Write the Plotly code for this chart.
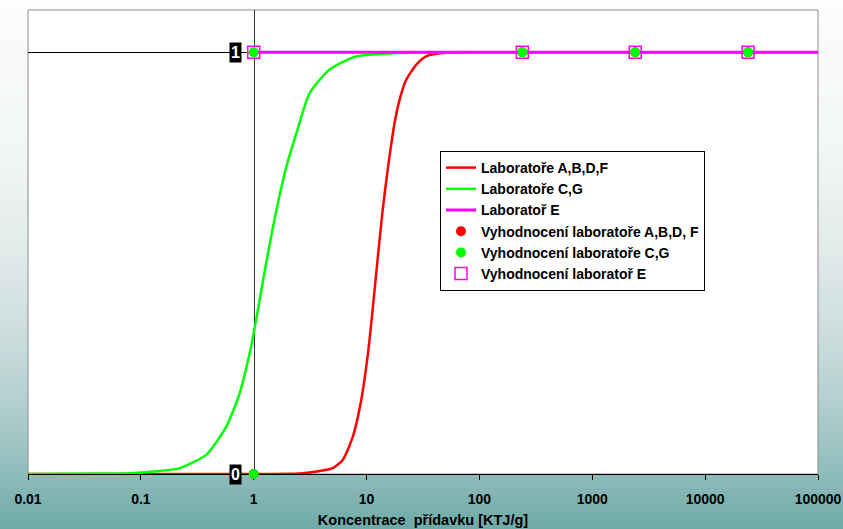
import plotly.graph_objects as go

# ---- data ----
red_x = [0.01, 1, 2.55, 3.59, 5.03, 6.17, 7.57, 8.98, 10.3, 11.4, 12.6, 13.9, 15.4, 17.7, 19.6, 22.4, 27.5, 33.7, 47.3, 100, 100000]
red_y = [0, 0, 0.001, 0.006, 0.014, 0.034, 0.089, 0.176, 0.287, 0.398, 0.516, 0.627, 0.722, 0.832, 0.887, 0.934, 0.970, 0.990, 0.998, 1, 1]

green_x = [0.01, 0.05, 0.08, 0.13, 0.221, 0.381, 0.573, 0.751, 0.922, 1.0, 1.13, 1.29, 1.59, 1.95, 2.39, 3.13, 4.71, 8.11, 18.3, 100, 100000]
green_y = [0, 0.001, 0.002, 0.006, 0.014, 0.046, 0.113, 0.192, 0.287, 0.334, 0.413, 0.50, 0.626, 0.729, 0.808, 0.903, 0.959, 0.990, 0.998, 1, 1]

pink_x = [1, 240, 2400, 24000, 100000]
pink_y = [1, 1, 1, 1, 1]

red_pts_x = [1, 240, 2400, 24000]
red_pts_y = [0, 1, 1, 1]
green_pts_x = [1, 1, 240, 2400, 24000]
green_pts_y = [0, 1, 1, 1, 1]
pink_pts_x = [1, 240, 2400, 24000]
pink_pts_y = [1, 1, 1, 1]

tick_vals = [0.01, 0.1, 1, 10, 100, 1000, 10000, 100000]
tick_text = ["0.01", "0.1", "1", "10", "100", "1000", "10000", "100000"]

names = ["Laboratoře A,B,D,F", "Laboratoře C,G", "Laboratoř E",
         "Vyhodnocení laboratoře A,B,D, F", "Vyhodnocení laboratoře C,G", "Vyhodnocení laboratoř E"]
x_title = "Koncentrace  přídavku [KTJ/g]"

# ---- figure ----
W, H = 843, 529
ML, MR, MT, MB = 28, 25, 10, 55
PW, PH = W - ML - MR, H - MT - MB
FONT = "Arial, Liberation Sans, sans-serif"

fig = go.Figure()
fig.add_trace(go.Scatter(x=red_x, y=red_y, mode="lines", name=names[0],
                         line=dict(color="#ff0000", width=2.5, shape="spline", smoothing=0.6)))
fig.add_trace(go.Scatter(x=green_x, y=green_y, mode="lines", name=names[1],
                         line=dict(color="#00ff00", width=2.5, shape="spline", smoothing=0.6)))
fig.add_trace(go.Scatter(x=pink_x, y=pink_y, mode="lines", name=names[2],
                         line=dict(color="#ff00ff", width=3)))
fig.add_trace(go.Scatter(x=red_pts_x, y=red_pts_y, mode="markers", name=names[3], cliponaxis=False,
                         marker=dict(color="#ff0000", size=10, symbol="circle")))
fig.add_trace(go.Scatter(x=green_pts_x, y=green_pts_y, mode="markers", name=names[4], cliponaxis=False,
                         marker=dict(color="#00ff00", size=10, symbol="circle")))
fig.add_trace(go.Scatter(x=pink_pts_x, y=pink_pts_y, mode="markers", name=names[5], cliponaxis=False,
                         marker=dict(color="#ff00ff", size=12, symbol="square-open", line=dict(width=1.5))))

# background gradient (pixel row -> colour stops)
stops = [(0, (252, 253, 253)), (150, (243, 246, 246)), (250, (226, 234, 234)),
         (330, (205, 222, 222)), (400, (180, 208, 207)), (460, (150, 192, 191)),
         (529, (110, 170, 168))]

def col_at(py):
    for (a, ca), (b, cb) in zip(stops[:-1], stops[1:]):
        if a <= py <= b:
            t = (py - a) / (b - a)
            return "rgb(%d,%d,%d)" % tuple(round(ca[i] + (cb[i] - ca[i]) * t) for i in range(3))
    return "rgb(%d,%d,%d)" % stops[-1][1]

shapes = []
step = 4
x0p, x1p = -ML / PW, (W - ML) / PW
for py in range(0, H, step):
    y_top = (H - MB - py) / PH
    y_bot = (H - MB - (py + step + 0.5)) / PH
    shapes.append(dict(type="rect", xref="paper", yref="paper", x0=x0p, x1=x1p,
                       y0=y_bot, y1=y_top, fillcolor=col_at(py + step / 2),
                       line=dict(width=0), layer="below"))
shapes.append(dict(type="rect", xref="paper", yref="paper", x0=0, x1=1, y0=0, y1=1,
                   fillcolor="white", line=dict(color="#8c8c8c", width=1), layer="below"))

annotations = []
for v in [1, 0]:
    annotations.append(dict(x=0, y=v, xref="x", yref="y", text="<b>%d</b>" % v,
                            showarrow=False, xshift=-18, xanchor="center", yanchor="middle",
                            font=dict(color="white", size=16, family=FONT),
                            bgcolor="black", borderpad=1))

ypos = (254 - ML) / PW

fig.update_layout(
    width=W, height=H,
    margin=dict(l=ML, r=MR, t=MT, b=MB, autoexpand=False),
    paper_bgcolor="white", plot_bgcolor="rgba(0,0,0,0)",
    font=dict(family=FONT, color="black"),
    shapes=shapes, annotations=annotations,
    showlegend=True,
    legend=dict(x=(440 - ML) / PW, y=(H - MB - 151) / PH, xanchor="left", yanchor="top",
                bgcolor="white", bordercolor="black", borderwidth=1,
                font=dict(size=14, family=FONT, color="black", weight="bold"),
                tracegroupgap=0),
    xaxis=dict(type="log", range=[-2, 5], tickvals=tick_vals, ticktext=tick_text,
               showgrid=False, zeroline=False, showline=True, linecolor="black", linewidth=1,
               ticks="outside", ticklen=5, tickcolor="black", ticklabelstandoff=7,
               layer="below traces",
               tickfont=dict(size=14, family=FONT, color="black", weight="bold"),
               title=dict(text=x_title, standoff=9,
                          font=dict(size=14.5, family=FONT, color="black", weight="bold")),
               automargin=False),
    yaxis=dict(range=[0, 1.1], tickvals=[1], showticklabels=False, ticks="",
               showgrid=True, gridcolor="black", gridwidth=1, zeroline=False,
               showline=True, linecolor="#333333", linewidth=1, layer="below traces",
               anchor="free", position=ypos, automargin=False),
)

fig.write_html("out.html")
